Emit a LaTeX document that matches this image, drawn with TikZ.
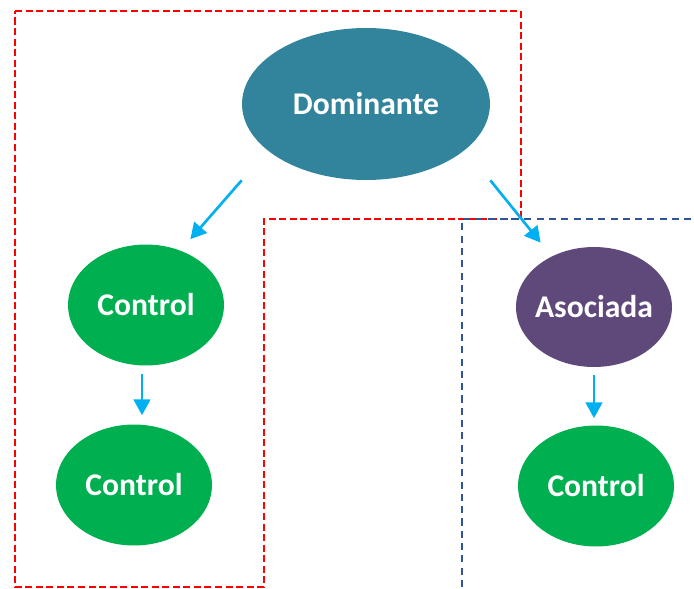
\documentclass[tikz,border=0pt]{standalone}
\usepackage{fontspec}
\setmainfont{Carlito}
\usepackage{tikz}
\usetikzlibrary{shapes.geometric,arrows.meta,calc}
\usepackage{xcolor}
\definecolor{domcol}{HTML}{31849B}
\definecolor{asocol}{HTML}{5F497A}
\definecolor{ctrlcol}{HTML}{00B050}
\definecolor{arrcol}{HTML}{00B0F0}
\definecolor{bluedash}{HTML}{2F5597}
\tikzset{
  blob/.style={ellipse,inner sep=0pt,text=white,font=\bfseries\fontsize{18}{20}\selectfont},
  ctrl/.style={blob,fill=ctrlcol,minimum width=3.12cm,minimum height=2.42cm},
  flow/.style={arrcol,line width=1.5pt,-{Triangle[length=9pt,width=9.5pt]}},
}
\begin{document}
\begin{tikzpicture}[x=0.02cm,y=-0.02cm]
        \useasboundingbox (0,0) rectangle (694,589);
        % groups
        \draw[red,line width=1.1pt,dash pattern=on 4pt off 2pt] (15,11) -- (521,11) -- (521,219) -- (264,219) -- (264,587) -- (15,587) -- cycle;
        \draw[bluedash,line width=0.9pt,dash pattern=on 4pt off 3pt] (462,587) -- (462,219) -- (694,219);
        % nodes
        \node[blob,fill=domcol,minimum width=4.96cm,minimum height=3.04cm] (dom) at (366,104) {Dominante};
        \node[ctrl] (ctrlA) at (146,305) {Control};
        \node[ctrl] (ctrlB) at (134,485) {Control};
        \node[blob,fill=asocol,minimum width=3.12cm,minimum height=2.4cm] (asoc) at (594,307) {\makebox[1.8cm]{Asociada}};
        \node[ctrl] (ctrlC) at (596,486) {Control};
        % arrows
        \draw[flow] (dom.west |- dom.south) -- ($(ctrlA.east |- ctrlA.north)+(-34,-5)$);
        \draw[flow] (dom.east |- dom.south) -- ($(asoc.west |- asoc.north)+(25,-4)$);
        \draw[flow,shorten <=0.16cm,shorten >=0.18cm] ([xshift=-0.08cm]ctrlA.south) -- ([xshift=-0.08cm]ctrlA.south |- ctrlB.north);
        \draw[flow,shorten <=0.16cm,shorten >=0.14cm] (asoc.south) -- (asoc.south |- ctrlC.north);
      \end{tikzpicture}
\end{document}
